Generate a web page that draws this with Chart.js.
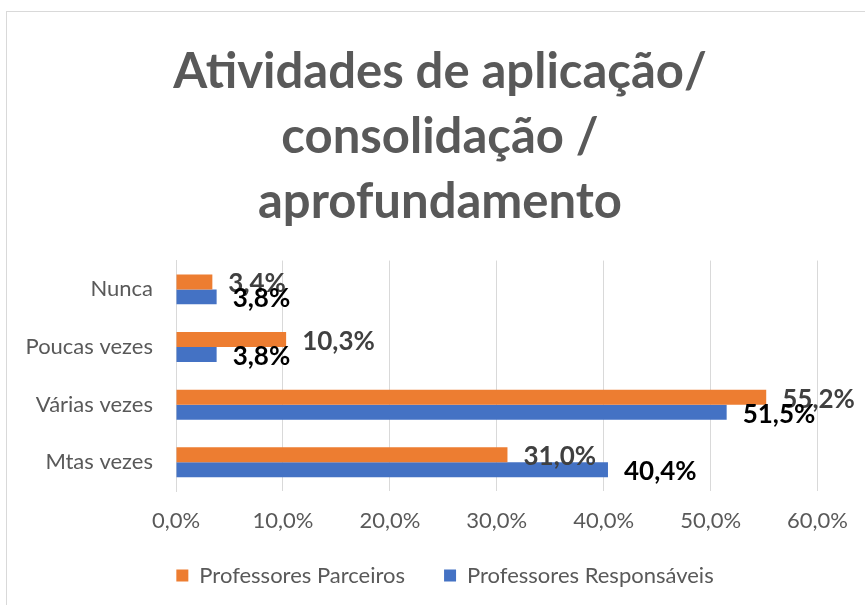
<!DOCTYPE html>
<html>
<head>
<meta charset="utf-8">
<script src="https://cdn.jsdelivr.net/npm/chart.js@4.4.1/dist/chart.umd.min.js"></script>
<style>
  body { margin: 0; background: #fff; overflow: hidden; }
  .wrap { position: relative; width: 865px; height: 605px; }
  .frame { position: absolute; left: 6px; top: 11px; width: 1000px; height: 800px; border: 1.5px solid #d9d9d9; }
  canvas { position: absolute; left: 0; top: 0; }
</style>
</head>
<body>
<div class="wrap">
  <div class="frame"></div>
  <canvas id="myChart" width="865" height="605"></canvas>
</div>
<script>
const categories = ['Nunca', 'Poucas vezes', 'Várias vezes', 'Mtas vezes'];
const parceiros = [3.4, 10.3, 55.2, 31.0];
const responsaveis = [3.8, 3.8, 51.5, 40.4];
const tickValues = [0, 10, 20, 30, 40, 50, 60];

const FONT = 'Lato, "Open Sans", sans-serif';

function pct(v) {
  return v.toFixed(1).replace('.', ',') + '%';
}

// value labels at the end of each bar
const barLabels = {
  id: 'barLabels',
  afterDatasetsDraw(chart) {
    const ctx = chart.ctx;
    const colors = ['#404040', '#000000'];
    ctx.save();
    ctx.font = 'bold 26px ' + FONT;
    ctx.textAlign = 'left';
    ctx.textBaseline = 'middle';
    chart.data.datasets.forEach((ds, i) => {
      const meta = chart.getDatasetMeta(i);
      ctx.fillStyle = colors[i];
      meta.data.forEach((bar, j) => {
        ctx.fillText(pct(ds.data[j]), bar.x + 16, bar.y + 2);
      });
    });
    ctx.restore();
  }
};

// nudge title and legend so they sit where Excel put them
const nudge = {
  id: 'nudge',
  afterLayout(chart) {
    chart.titleBlock.left += 55;
    chart.legend.left += 65;
    chart.legend.top -= 26;
    chart.legend.bottom = 605;
  }
};

new Chart(document.getElementById('myChart'), {
  type: 'bar',
  data: {
    labels: categories,
    datasets: [
      { label: 'Professores Parceiros', data: parceiros, backgroundColor: '#ED7D31', borderWidth: 0 },
      { label: 'Professores Responsáveis', data: responsaveis, backgroundColor: '#4472C4', borderWidth: 0 }
    ]
  },
  options: {
    indexAxis: 'y',
    responsive: false,
    animation: false,
    categoryPercentage: 0.52,
    barPercentage: 1,
    layout: { padding: { left: 7, right: 47, top: 0, bottom: -17.5 } },
    plugins: {
      title: {
        display: true,
        text: ['Atividades de aplicação/', 'consolidação /', 'aprofundamento'],
        color: '#595959',
        font: { family: FONT, size: 49, weight: 'bold', lineHeight: 1.327 },
        padding: { top: 40, bottom: 25.5 }
      },
      legend: {
        position: 'bottom',
        labels: {
          color: '#595959',
          font: { family: FONT, size: 22 },
          boxWidth: 12,
          boxHeight: 12,
          padding: 39
        }
      },
      tooltip: { enabled: false }
    },
    scales: {
      x: {
        min: 0,
        max: 60,
        afterBuildTicks(scale) {
          scale.ticks = tickValues.map(v => ({ value: v }));
        },
        ticks: {
          color: '#595959',
          font: { family: FONT, size: 22 },
          padding: 17,
          callback: v => pct(v)
        },
        grid: { color: '#d9d9d9', drawTicks: false },
        border: { display: false }
      },
      y: {
        afterFit(scale) { scale.width = 169; },
        ticks: {
          color: '#595959',
          font: { family: FONT, size: 22 },
          padding: 23
        },
        grid: { display: false, drawTicks: false },
        border: { display: true, color: '#d9d9d9', width: 1 }
      }
    }
  },
  plugins: [barLabels, nudge]
});
</script>
</body>
</html>
